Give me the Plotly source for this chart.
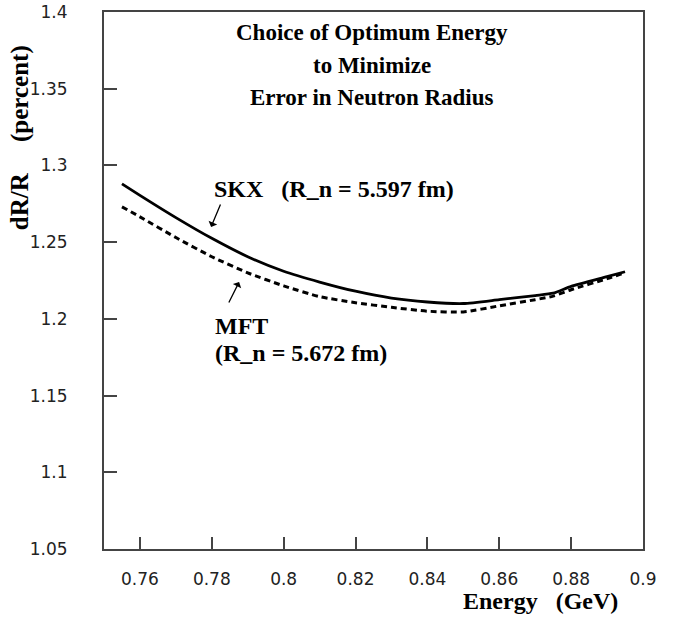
import plotly.graph_objects as go

energy = [0.755, 0.76, 0.77, 0.78, 0.79, 0.80, 0.81, 0.82, 0.83, 0.84, 0.85, 0.86, 0.87, 0.875, 0.88, 0.89, 0.895]
skx = [1.288, 1.2805, 1.266, 1.2525, 1.2405, 1.231, 1.224, 1.218, 1.2135, 1.211, 1.210, 1.2125, 1.2152, 1.2167, 1.2212, 1.2275, 1.2307]
mft = [1.273, 1.2665, 1.253, 1.2405, 1.230, 1.2215, 1.2145, 1.2105, 1.2075, 1.205, 1.2045, 1.2085, 1.2125, 1.2148, 1.219, 1.2262, 1.2301]

x_ticks = [0.76, 0.78, 0.8, 0.82, 0.84, 0.86, 0.88, 0.9]
x_ticktext = ["0.76", "0.78", "0.8", "0.82", "0.84", "0.86", "0.88", "0.9"]
y_ticks = [1.05, 1.1, 1.15, 1.2, 1.25, 1.3, 1.35, 1.4]
y_ticktext = ["1.05", "1.1", "1.15", "1.2", "1.25", "1.3", "1.35", "1.4"]
title_lines = ["Choice of Optimum Energy", "to Minimize", "Error in Neutron Radius"]

NB = "\u00a0"
serif = "Liberation Serif"
tickfont = dict(family="DejaVu Sans", size=17, color="#222")
frame = "#444"

fig = go.Figure()
fig.add_trace(go.Scatter(x=energy, y=skx, mode="lines",
                         line=dict(color="black", width=2.8, shape="spline", smoothing=0.6), name="SKX"))
fig.add_trace(go.Scatter(x=energy, y=mft, mode="lines",
                         line=dict(color="black", width=3, dash="6px,4px", shape="spline", smoothing=0.6), name="MFT"))

fig.update_layout(
    width=684, height=622,
    margin=dict(l=104, r=41, t=12, b=73),
    paper_bgcolor="white", plot_bgcolor="white",
    showlegend=False,
)
fig.update_xaxes(
    range=[0.75, 0.9], tickvals=x_ticks, ticktext=x_ticktext, automargin=False,
    ticks="inside", ticklen=12, tickwidth=1.5, tickcolor=frame,
    showline=True, linecolor=frame, linewidth=2, mirror=True,
    showgrid=False, zeroline=False, tickfont=tickfont, ticklabelstandoff=14,
)
fig.update_yaxes(
    range=[1.05, 1.4], tickvals=y_ticks, ticktext=y_ticktext, automargin=False,
    ticks="inside", ticklen=13, tickwidth=1.5, tickcolor=frame,
    showline=True, linecolor=frame, linewidth=2, mirror=True,
    showgrid=False, zeroline=False, tickfont=tickfont, ticklabelstandoff=31,
)

bold = dict(family=serif, size=23, color="black")
bold24 = dict(family=serif, size=24, color="black")
ann = []
for line, yy in zip(title_lines, [0.9609, 0.9013, 0.8417]):
    ann.append(dict(text="<b>" + line + "</b>", x=0.497, y=yy, xref="paper", yref="paper",
                    xanchor="center", yanchor="middle", showarrow=False, font=bold))
ann += [
    dict(text="<b>SKX" + NB * 3 + "(R_n = 5.597 fm)</b>",
         x=0.2004, y=0.6704, xref="paper", yref="paper", xanchor="left", yanchor="middle",
         showarrow=False, font=bold24),
    dict(text="<b>MFT</b>",
         x=0.2022, y=0.4153, xref="paper", yref="paper", xanchor="left", yanchor="middle",
         showarrow=False, font=bold24),
    dict(text="<b>(R_n = 5.672 fm)</b>",
         x=0.2022, y=0.3659, xref="paper", yref="paper", xanchor="left", yanchor="middle",
         showarrow=False, font=bold24),
    dict(text="<b>Energy" + NB * 3 + "(GeV)</b>",
         x=0.809, y=-0.097, xref="paper", yref="paper", xanchor="center", yanchor="middle",
         showarrow=False, font=bold24),
    dict(text="<b>dR/R" + NB * 5 + "(percent)</b>",
         x=-0.1558, y=0.765, xref="paper", yref="paper", xanchor="center", yanchor="middle",
         showarrow=False, font=dict(family=serif, size=25, color="black"), textangle=-90),
    dict(text="", x=0.7798, y=1.2599, xref="x", yref="y", ax=10, ay=-24,
         showarrow=True, arrowhead=1, arrowsize=1.2, arrowwidth=1.3, arrowcolor="black"),
    dict(text="", x=0.7876, y=1.224, xref="x", yref="y", ax=-11, ay=22,
         showarrow=True, arrowhead=1, arrowsize=1.2, arrowwidth=1.3, arrowcolor="black"),
]
fig.update_layout(annotations=ann)

fig.write_html("out.html")
